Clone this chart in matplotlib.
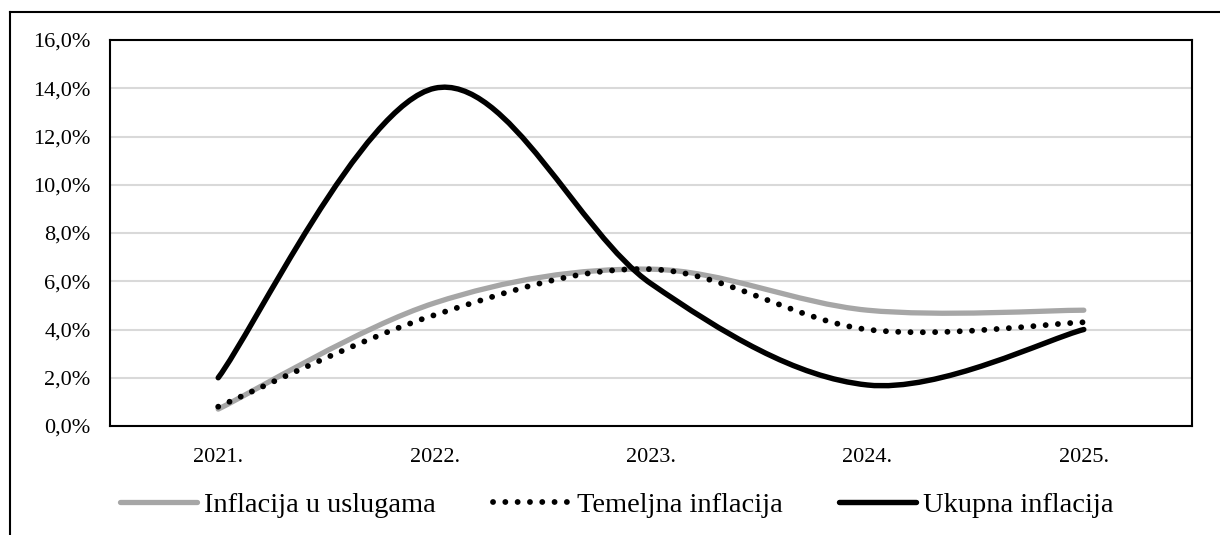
import matplotlib
matplotlib.use('Agg')
import matplotlib.pyplot as plt
from matplotlib.path import Path
from matplotlib.patches import PathPatch
from matplotlib.lines import Line2D

godine = ['2021.', '2022.', '2023.', '2024.', '2025.']
usluge = [0.7, 5.1, 6.5, 4.8, 4.8]
temeljna = [0.8, 4.6, 6.5, 4.0, 4.3]
ukupna = [2.0, 14.0, 5.9, 1.7, 4.0]
y_ticks = [0, 2, 4, 6, 8, 10, 12, 14, 16]

plt.rcParams['font.family'] = ['Liberation Serif', 'DejaVu Serif']


def smooth_path(xs, ys):
    # excel-like smoothed line: cubic bezier through every point
    pts = list(zip(xs, ys))
    n = len(pts)
    verts = [pts[0]]
    codes = [Path.MOVETO]
    for i in range(n - 1):
        p0 = pts[i - 1] if i > 0 else pts[i]
        p1 = pts[i]
        p2 = pts[i + 1]
        p3 = pts[i + 2] if i + 2 < n else pts[i + 1]
        c1 = (p1[0] + (p2[0] - p0[0]) / 6, p1[1] + (p2[1] - p0[1]) / 6)
        c2 = (p2[0] - (p3[0] - p1[0]) / 6, p2[1] - (p3[1] - p1[1]) / 6)
        verts += [c1, c2, p2]
        codes += [Path.CURVE4] * 3
    return Path(verts, codes)


fig = plt.figure(figsize=(12.2, 5.35), dpi=100)
ax = fig.add_axes([110 / 1220, 1 - 426 / 535, 1082 / 1220, 386 / 535])

dots = (0, (0.01, 2.1))
x = list(range(len(godine)))
series = [
    (usluge, dict(color='#a6a6a6', lw=3.8, ls='-')),
    (temeljna, dict(color='black', lw=4.2, ls=dots)),
    (ukupna, dict(color='black', lw=3.9, ls='-')),
]
for vals, st in series:
    ax.add_patch(PathPatch(smooth_path(x, vals), fill=False, edgecolor=st['color'],
                           lw=st['lw'], ls=st['ls'], capstyle='round', zorder=3))

ax.set_xlim(-0.5, len(godine) - 0.5)
ax.set_ylim(0, 16)
ax.set_xticks(x)
ax.set_xticklabels(godine)
ax.set_yticks(y_ticks)
ax.set_yticklabels(['{:.1f}%'.format(v).replace('.', ',') for v in y_ticks])
ax.tick_params(axis='both', length=0, labelsize=16)
ax.tick_params(axis='x', pad=16)
ax.tick_params(axis='y', pad=14)
ax.grid(axis='y', color='#d9d9d9', lw=1.5)
ax.set_axisbelow(True)
for s in ax.spines.values():
    s.set_linewidth(1.5)
    s.set_color('black')

handles = [
    Line2D([], [], color='#a6a6a6', lw=3.8, solid_capstyle='round'),
    Line2D([], [], color='black', lw=4.2, ls=dots, dash_capstyle='round'),
    Line2D([], [], color='black', lw=3.9, solid_capstyle='round'),
]
fig.legend(handles, ['Inflacija u uslugama', 'Temeljna inflacija', 'Ukupna inflacija'],
           loc='center', bbox_to_anchor=(617 / 1220, 1 - 505 / 535), ncol=3, frameon=False,
           fontsize=20.5, handlelength=2.7, handletextpad=0.25, columnspacing=2.0)

# outer frame (left and top edges)
fig.add_artist(Line2D([10 / 1220, 10 / 1220], [0, 1 - 12 / 535], color='black', lw=1.5,
                      transform=fig.transFigure))
fig.add_artist(Line2D([10 / 1220, 1], [1 - 12 / 535, 1 - 12 / 535], color='black', lw=1.5,
                      transform=fig.transFigure))

fig.savefig('out.png', dpi=100)
